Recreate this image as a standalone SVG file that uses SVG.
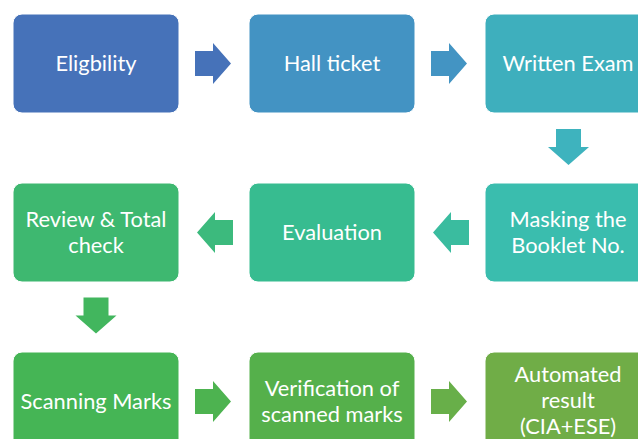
<svg xmlns="http://www.w3.org/2000/svg" width="638" height="439" viewBox="0 0 638 439">
<style>
.box{stroke:#ffffff;stroke-width:1}
.t{font-family:Lato,"Noto Sans",sans-serif;font-size:21.8px;fill:#ffffff;text-anchor:middle}
</style>
<defs>
<path id="ar" d="M0,-12.5 H18 V-20.5 L36,0 L18,20.5 V12.5 H0 Z"/>
</defs>
<rect width="638" height="439" fill="#ffffff"/>
<g id="connectors">
<use href="#ar" transform="translate(195,63.5)" fill="#4672B9"/>
<use href="#ar" transform="translate(431,63.5)" fill="#4394C3"/>
<use href="#ar" transform="translate(568.5,129) rotate(90)" fill="#3EB3BE"/>
<use href="#ar" transform="translate(469,232.5) rotate(180)" fill="#3ABC9F"/>
<use href="#ar" transform="translate(233,232.5) rotate(180)" fill="#3CBA7D"/>
<use href="#ar" transform="translate(96,297.5) rotate(90)" fill="#42B65E"/>
<use href="#ar" transform="translate(195,401.5)" fill="#4DB350"/>
<use href="#ar" transform="translate(431,401.5)" fill="#68AF49"/>
</g>
<g id="n1"><rect class="box" x="13" y="14" width="166" height="99" rx="9" fill="#4672B9"/><text class="t" x="96" y="71">Eligbility</text></g>
<g id="n2"><rect class="box" x="249" y="14" width="166" height="99" rx="9" fill="#4393C3"/><text class="t" x="332" y="71">Hall ticket</text></g>
<g id="n3"><rect class="box" x="485" y="14" width="166" height="99" rx="9" fill="#3EAFBD"/><text class="t" x="568" y="71">Written Exam</text></g>
<g id="n4"><rect class="box" x="485" y="183" width="166" height="99" rx="9" fill="#3ABDAE"/><text class="t" x="568" y="227">Masking the</text><text class="t" x="568" y="253">Booklet No.</text></g>
<g id="n5"><rect class="box" x="249" y="183" width="166" height="99" rx="9" fill="#37BC90"/><text class="t" x="332" y="240">Evaluation</text></g>
<g id="n6"><rect class="box" x="13" y="183" width="166" height="99" rx="9" fill="#3EB870"/><text class="t" x="96" y="227">Review &amp; Total</text><text class="t" x="96" y="253">check</text></g>
<g id="n7"><rect class="box" x="13" y="352" width="166" height="99" rx="9" fill="#45B555"/><text class="t" x="96" y="409">Scanning Marks</text></g>
<g id="n8"><rect class="box" x="249" y="352" width="166" height="99" rx="9" fill="#55B04B"/><text class="t" x="332" y="396">Verification of</text><text class="t" x="332" y="422">scanned marks</text></g>
<g id="n9"><rect class="box" x="485" y="352" width="166" height="99" rx="9" fill="#70AD47"/><text class="t" x="568" y="382">Automated</text><text class="t" x="568" y="408">result</text><text class="t" x="568" y="434">(CIA+ESE)</text></g>
</svg>
